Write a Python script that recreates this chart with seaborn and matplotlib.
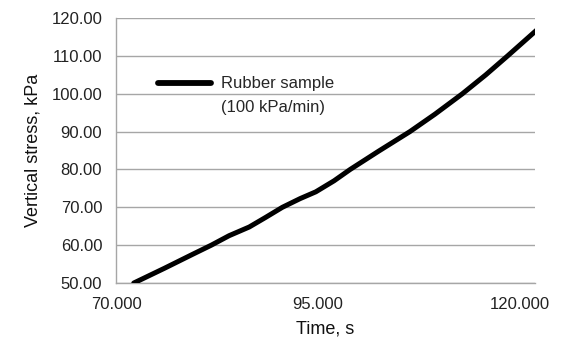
import matplotlib
matplotlib.use("Agg")
import matplotlib.pyplot as plt
from matplotlib.lines import Line2D
from matplotlib.ticker import FormatStrFormatter
import seaborn as sns
import pandas as pd

# Loading ramp of the rubber sample
time_s = [72.2, 76.0, 79.5, 81.8, 84.0, 86.5, 88.5, 90.6, 92.8, 94.75,
          97.0, 99.0, 102.5, 106.4, 109.5, 112.9, 115.8, 118.5, 122.2]
stress_kpa = [50.0, 53.9, 57.6, 60.0, 62.5, 64.8, 67.3, 70.0, 72.3, 74.1,
              77.0, 80.0, 84.8, 90.0, 94.6, 100.0, 105.0, 110.0, 117.0]
x_ticks = [70, 95, 120]
y_ticks = [50, 60, 70, 80, 90, 100, 110, 120]
series_label = "Rubber sample"
series_note = "(100 kPa/min)"

df = pd.DataFrame({"Time, s": time_s, "Vertical stress, kPa": stress_kpa})

sns.set_theme(style="white")
plt.rcParams["font.family"] = ["Liberation Sans", "DejaVu Sans"]

grid_grey = "#a6a6a6"
fig = plt.figure(figsize=(5.61, 3.41), dpi=100)
ax = fig.add_axes([0.2068, 0.170, 0.7469, 0.777])

sns.lineplot(data=df, x="Time, s", y="Vertical stress, kPa", ax=ax,
             color="black", linewidth=3.6, legend=False, zorder=3)

ax.set_xlim(70, 121.9)
ax.set_ylim(50, 120)
ax.set_xticks(x_ticks)
ax.set_yticks(y_ticks)
ax.xaxis.set_major_formatter(FormatStrFormatter("%.3f"))
ax.yaxis.set_major_formatter(FormatStrFormatter("%.2f"))
ax.grid(axis="y", color=grid_grey, linewidth=1.0)
ax.grid(axis="x", visible=False)
for side in ("top", "right"):
    ax.spines[side].set_visible(False)
for side in ("left", "bottom"):
    ax.spines[side].set_color(grid_grey)
    ax.spines[side].set_linewidth(1.0)
ax.tick_params(axis="both", which="major", direction="out", length=5,
               width=1.0, color=grid_grey, labelsize=12, labelcolor="#222222",
               pad=5)
ax.set_xlabel("Time, s", fontsize=13, color="#111111", labelpad=6)
ax.set_ylabel("Vertical stress, kPa", fontsize=13, color="#111111", labelpad=7)

handles = [Line2D([], [], color="black", linewidth=4.2),
           Line2D([], [], color="none")]
ax.legend(handles, [series_label, series_note], loc="upper left",
          bbox_to_anchor=(0.10, 0.78), frameon=False, fontsize=12,
          handlelength=3.2, handletextpad=0.6, borderpad=0, borderaxespad=0,
          labelspacing=0.5)

fig.savefig("out.png", dpi=100)
